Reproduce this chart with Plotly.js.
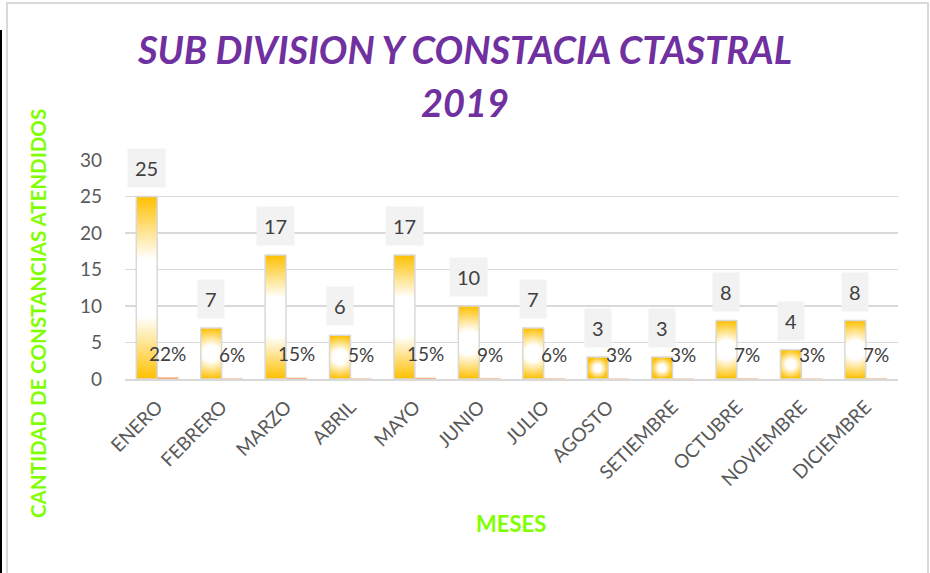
<!DOCTYPE html>
<html>
<head>
<meta charset="utf-8">
<script src="https://cdn.plot.ly/plotly-3.0.1.min.js"></script>
<style>
  html, body { margin: 0; padding: 0; background: #ffffff; }
  #wrap { position: relative; width: 930px; height: 573px; overflow: hidden; }
  #frame { position: absolute; left: 6px; top: 2px; width: 923px; height: 600px; border: 2px solid #d9d9d9; box-sizing: border-box; }
  #blk { position: absolute; left: 0px; top: 30px; width: 2px; height: 560px; background: #000; }
  #chart { position: absolute; left: 0; top: 0; width: 930px; height: 573px; }
</style>
</head>
<body>
<div id="wrap">
  <div id="frame"></div>
  <div id="blk"></div>
  <div id="chart"></div>
</div>
<script>
// ---- data ----
var months = ["ENERO","FEBRERO","MARZO","ABRIL","MAYO","JUNIO","JULIO","AGOSTO","SETIEMBRE","OCTUBRE","NOVIEMBRE","DICIEMBRE"];
var counts = [25, 7, 17, 6, 17, 10, 7, 3, 3, 8, 4, 8];
var shares = [0.22, 0.06, 0.15, 0.05, 0.15, 0.09, 0.06, 0.03, 0.03, 0.07, 0.03, 0.07];
var shareLabels = ["22%","6%","15%","5%","15%","9%","6%","3%","3%","7%","3%","7%"];
var yTicks = [0, 5, 10, 15, 20, 25, 30];

var FONT = "Lato, 'Open Sans', sans-serif";
var gd = document.getElementById('chart');

var traces = [
  {
    type: 'bar', x: months, y: counts, name: 'Cantidad',
    marker: { color: '#ffe699', line: { color: '#d9d9d9', width: 1.5 } },
    hoverinfo: 'none'
  },
  {
    type: 'bar', x: months, y: shares, name: 'Porcentaje',
    marker: { color: '#f4a474', line: { color: '#f8cbad', width: 0.5 } },
    hoverinfo: 'none'
  }
];

var halfBar = 10.5;
var annotations = [];
months.forEach(function (m, i) {
  annotations.push({
    x: m, y: counts[i], xref: 'x', yref: 'y', xshift: -halfBar, yshift: 9,
    yanchor: 'bottom', xanchor: 'center', showarrow: false,
    text: String(counts[i]), bgcolor: '#f2f2f2', borderpad: 7,
    font: { family: FONT, size: 20, color: '#404040' }
  });
  annotations.push({
    x: m, y: shares[i], xref: 'x', yref: 'y', xshift: halfBar, yshift: 24,
    yanchor: 'middle', xanchor: 'center', showarrow: false,
    text: shareLabels[i],
    font: { family: FONT, size: 19, color: '#404040' }
  });
});
// second title line
annotations.push({
  xref: 'paper', yref: 'paper', x: 0.44, y: 1.265, xanchor: 'center', yanchor: 'middle',
  showarrow: false, text: '<b><i>2019</i></b>',
  font: { family: FONT, size: 38, color: '#7030a0' }
});
// y axis title
annotations.push({
  xref: 'paper', yref: 'paper', x: -0.1125, y: 0.297, xanchor: 'center', yanchor: 'middle',
  showarrow: false, textangle: -90, text: '<b>CANTIDAD DE CONSTANCIAS ATENDIDOS</b>',
  font: { family: FONT, size: 20.5, color: '#7fff00' }
});
// x axis title
annotations.push({
  xref: 'paper', yref: 'paper', x: 0.4994, y: -0.662, xanchor: 'center', yanchor: 'middle',
  showarrow: false, text: '<b>MESES</b>',
  font: { family: FONT, size: 22, color: '#7fff00' }
});

var layout = {
  width: 930, height: 573,
  margin: { l: 125, r: 32, t: 160, b: 194 },
  paper_bgcolor: 'rgba(0,0,0,0)', plot_bgcolor: 'rgba(0,0,0,0)',
  showlegend: false,
  barmode: 'group', bargap: 0.35, bargroupgap: 0,
  title: {
    text: '<b><i>SUB DIVISION Y CONSTACIA CTASTRAL</i></b>',
    font: { family: FONT, size: 38, color: '#7030a0' },
    xref: 'container', x: 0.5, xanchor: 'center',
    yref: 'container', y: 1 - 51 / 573, yanchor: 'middle'
  },
  xaxis: {
    type: 'category', tickangle: -45,
    tickfont: { family: FONT, size: 19, color: '#595959' },
    showgrid: false, showline: true, linecolor: '#d9d9d9', linewidth: 1.5,
    ticks: '', ticklabelstandoff: 8
  },
  yaxis: {
    range: [0, 30], tickvals: yTicks, ticktext: yTicks.map(String),
    tickfont: { family: FONT, size: 19, color: '#595959' },
    showgrid: true, gridcolor: '#d9d9d9', gridwidth: 1.5,
    zeroline: false, showline: false, ticks: '', ticklabelstandoff: 22
  },
  annotations: annotations
};

Plotly.newPlot(gd, traces, layout, { staticPlot: true, displayModeBar: false }).then(function () {
  var ns = 'http://www.w3.org/2000/svg';
  var svg = gd.querySelector('svg.main-svg');
  var defs = svg.querySelector('defs');
  if (!defs) { defs = document.createElementNS(ns, 'defs'); svg.insertBefore(defs, svg.firstChild); }
  var barTraces = gd.querySelectorAll('.barlayer .trace.bars');
  var paths = barTraces[0].querySelectorAll('.point path');
  paths.forEach(function (p, i) {
    var bb = p.getBBox();
    var g = document.createElementNS(ns, 'radialGradient');
    g.setAttribute('id', 'bargrad' + i);
    g.setAttribute('gradientUnits', 'userSpaceOnUse');
    g.setAttribute('cx', bb.x + bb.width / 2);
    g.setAttribute('cy', bb.y + bb.height / 2);
    g.setAttribute('r', Math.max(bb.height / 2, bb.width / 2));
    [['0', '#ffffff'], ['0.32', '#ffffff'], ['1', '#ffc000']].forEach(function (s) {
      var st = document.createElementNS(ns, 'stop');
      st.setAttribute('offset', s[0]);
      st.setAttribute('stop-color', s[1]);
      g.appendChild(st);
    });
    defs.appendChild(g);
    p.style.fill = 'url(#bargrad' + i + ')';
  });
});
</script>
</body>
</html>
